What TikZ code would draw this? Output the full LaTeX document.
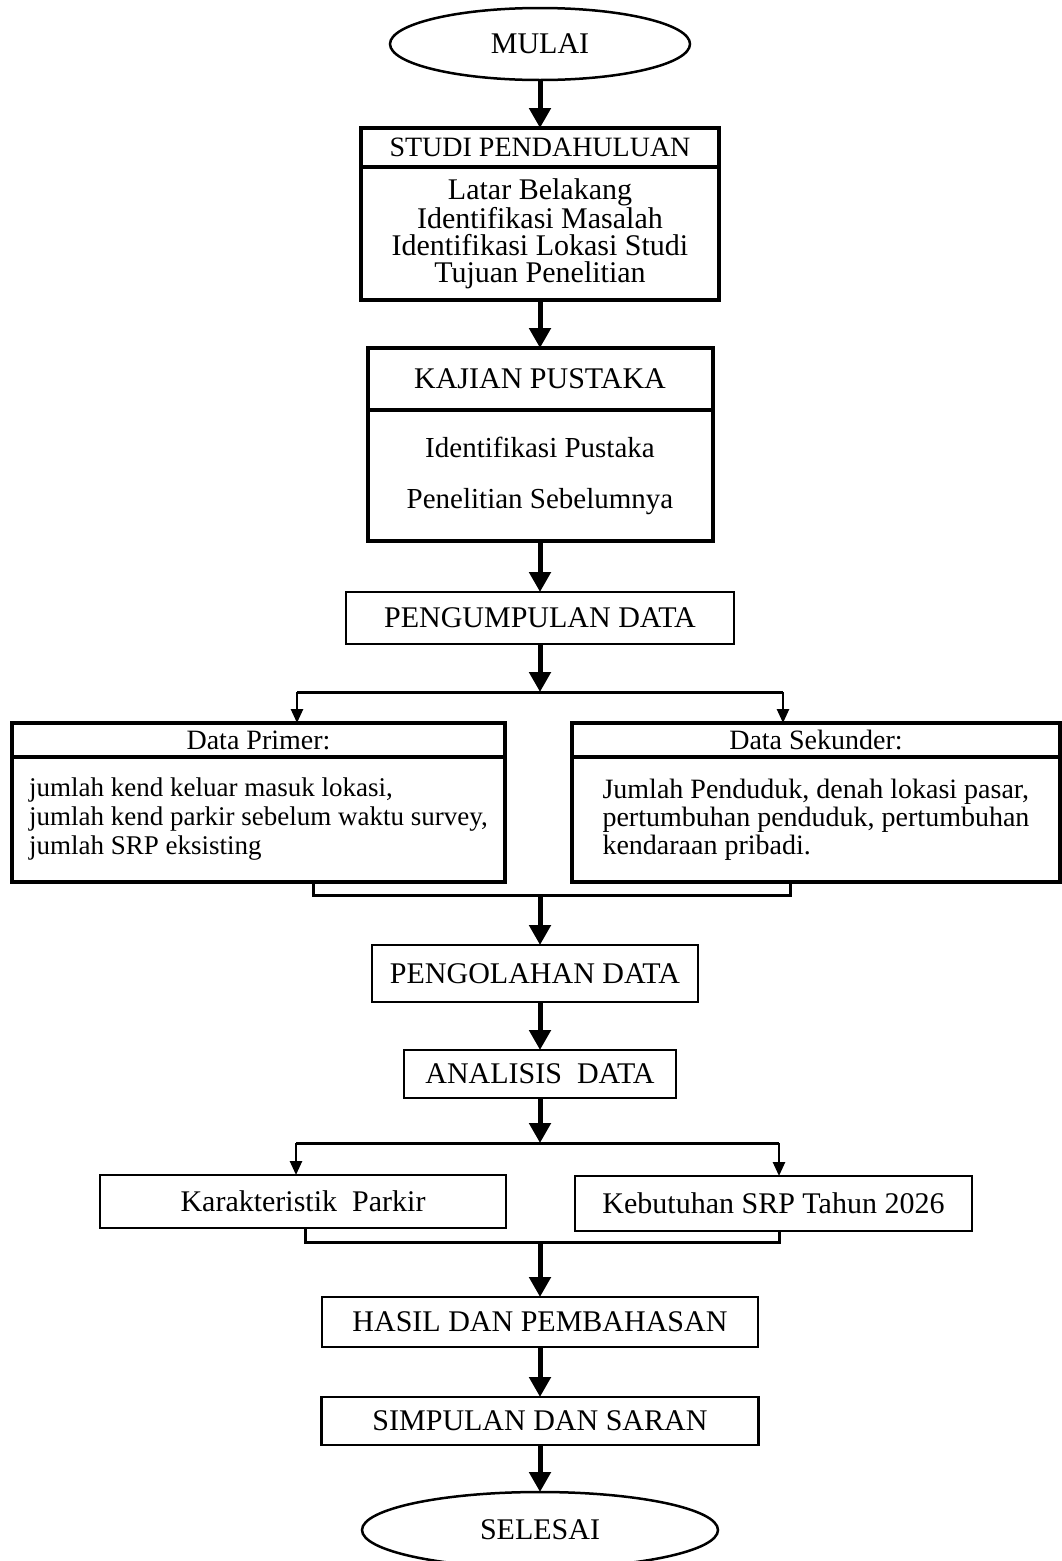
\documentclass[tikz,border=0pt]{standalone}
\usepackage{fontspec}
\setmainfont{Liberation Serif}
\usetikzlibrary{shapes.geometric, arrows.meta, positioning}

\begin{document}
\begin{tikzpicture}[
        x=1pt, y=1pt,
        node distance=48pt,
        every node/.style={outer sep=0pt},
        term/.style={ellipse, draw, line width=2.5pt, minimum width=300pt, minimum height=72pt, font=\fontsize{30}{30}\selectfont},
        headbox/.style={rectangle, draw, line width=3.5pt, inner sep=0pt, align=center, font=\fontsize{28}{28}\selectfont},
        bodybox/.style={rectangle, draw, line width=3.5pt, inner sep=0pt},
        stepbox/.style={rectangle, draw, line width=2.5pt, inner sep=0pt, font=\fontsize{30}{30}\selectfont},
        arr/.style={-{Triangle[width=21pt, length=20pt]}, line width=5pt},
        branch/.style={-{Triangle[width=12pt, length=14pt]}, line width=2.5pt},
        joint/.style={line width=3pt}
      ]
        \useasboundingbox (0,0) rectangle (1062,-1561);

        \node[term] (mulai) at (540,-44) {MULAI};
        \node[headbox, minimum width=358pt, minimum height=39pt, below=of mulai] (studihead) {STUDI PENDAHULUAN};
        \node[bodybox, minimum width=358pt, minimum height=133pt, below=0pt of studihead, align=center, font=\fontsize{30}{27}\selectfont] (studibody) {Latar Belakang\\ Identifikasi Masalah\\ Identifikasi Lokasi Studi\\ Tujuan Penelitian};

        \node[headbox, line width=4pt, minimum width=345pt, minimum height=62pt, below=of studibody, font=\fontsize{30}{30}\selectfont] (kajianhead) {KAJIAN PUSTAKA};
        \node[bodybox, line width=4pt, minimum width=345pt, minimum height=131pt, below=0pt of kajianhead, align=center, font=\fontsize{29}{51}\selectfont] (kajianbody) {Identifikasi Pustaka\\ Penelitian Sebelumnya};

        \node[stepbox, minimum width=388pt, minimum height=52pt, below=51pt of kajianbody] (pengumpulan) {PENGUMPULAN DATA};
        \coordinate[below=48pt of pengumpulan] (split);
        \coordinate (splitl) at (297,-692);
        \coordinate (splitr) at (783,-692);

        \node[headbox, minimum width=493pt, minimum height=34pt, anchor=north west] (primhead) at (12,-723) {Data Primer:};
        \node[bodybox, minimum width=493pt, minimum height=125pt, below=0pt of primhead, align=left, font=\fontsize{27}{29}\selectfont] (primbody) {jumlah kend keluar masuk lokasi,\\ jumlah kend parkir sebelum waktu survey,\\ jumlah SRP eksisting};
        \node[headbox, minimum width=488pt, minimum height=34pt, anchor=north west] (sekhead) at (572,-723) {Data Sekunder:};
        \node[bodybox, minimum width=488pt, minimum height=125pt, below=0pt of sekhead, align=left, font=\fontsize{28}{28}\selectfont] (sekbody) {Jumlah Penduduk, denah lokasi pasar,\\ pertumbuhan penduduk, pertumbuhan\\ kendaraan pribadi.};

        \coordinate (joinl) at (313,-895);
        \coordinate (joinr) at (790,-895);
        \coordinate (join) at (540,-895);

        \node[stepbox, minimum width=326pt, minimum height=57pt, below=50pt of join, xshift=-5pt] (pengolahan) {PENGOLAHAN DATA};
        \node[stepbox, minimum width=272pt, minimum height=48pt, below=of pengolahan, xshift=5pt] (analisis) {ANALISIS\ \ DATA};
        \coordinate[below=45pt of analisis] (split2);
        \coordinate (split2l) at (296,-1143);
        \coordinate (split2r) at (779,-1143);

        \node[stepbox, minimum width=406pt, minimum height=53pt, anchor=north west] (karakteristik) at (100,-1175) {Karakteristik\ \ Parkir};
        \node[stepbox, minimum width=397pt, minimum height=55pt, anchor=north west] (kebutuhan) at (575,-1176) {Kebutuhan SRP Tahun 2026};

        \coordinate (join2l) at (305,-1242);
        \coordinate (join2r) at (779,-1242);
        \coordinate (join2) at (540,-1242);

        \node[stepbox, minimum width=436pt, minimum height=50pt, below=55pt of join2] (hasil) {HASIL DAN PEMBAHASAN};
        \node[stepbox, minimum width=437pt, minimum height=48pt, below=50pt of hasil] (simpulan) {SIMPULAN DAN SARAN};
        \node[term, minimum width=356pt, minimum height=76pt, below=47pt of simpulan] (selesai) {SELESAI};

        \draw[arr] (mulai) -- (studihead);
        \draw[arr] (studibody) -- (kajianhead);
        \draw[arr] (kajianbody) -- (pengumpulan);
        \draw[arr] (pengumpulan) -- (split);
        \draw[joint] (splitl) -- (splitr);
        \draw[branch] (splitl) -- (splitl |- primhead.north);
        \draw[branch] (splitr) -- (splitr |- sekhead.north);
        \draw[joint] (joinl |- primbody.south) -- (joinl) -- (joinr) -- (joinr |- sekbody.south);
        \draw[arr] (join) -- (join |- pengolahan.north);
        \draw[arr] (join |- pengolahan.south) -- (analisis);
        \draw[arr] (analisis) -- (split2);
        \draw[joint] (split2l) -- (split2r);
        \draw[branch] (split2l) -- (split2l |- karakteristik.north);
        \draw[branch] (split2r) -- (split2r |- kebutuhan.north);
        \draw[joint] (join2l |- karakteristik.south) -- (join2l) -- (join2r) -- (join2r |- kebutuhan.south);
        \draw[arr] (join2) -- (hasil);
        \draw[arr] (hasil) -- (simpulan);
        \draw[arr] (simpulan) -- (selesai);
      \end{tikzpicture}
\end{document}
